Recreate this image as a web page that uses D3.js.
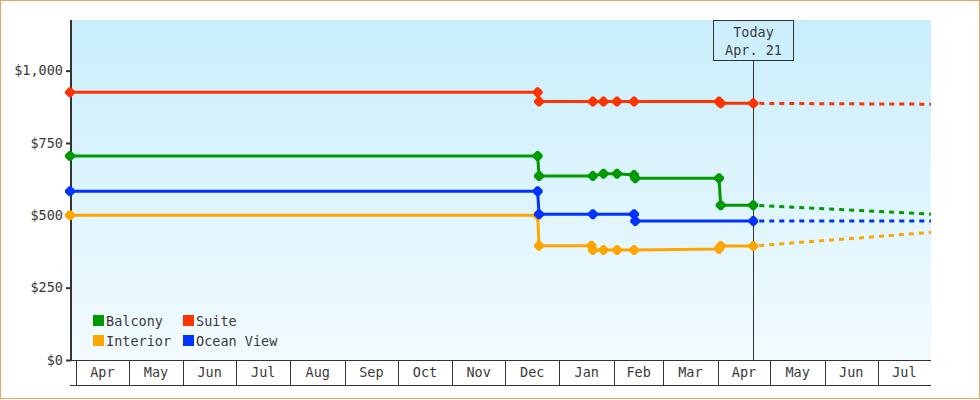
<!DOCTYPE html>
<html>
<head>
<meta charset="utf-8">
<script src="https://cdn.jsdelivr.net/npm/d3@7"></script>
<style>
  html, body { margin: 0; padding: 0; background: #fff; }
  svg { display: block; }
  text { font-family: "DejaVu Sans Mono", "Liberation Mono", monospace; font-size: 13.5px; fill: #3a3a3a; }
</style>
</head>
<body>
<svg id="chart" width="980" height="400"></svg>
<script>
// ---------- data ----------
const xDomain = ["2017-03-28T14:00", "2018-07-31T08:00"];
const yMax = 1175;
const yTicks = [0, 250, 500, 750, 1000];
const seriesNames = ["Balcony", "Suite", "Interior", "Ocean View"];
const seriesColors = ["#009900", "#ff3300", "#ffa500", "#0033ff"];

const balconyDates = ["2017-03-28T14:00", "2017-12-19T14:00", "2017-12-20T09:00", "2018-01-20T00:00", "2018-01-26T01:00", "2018-02-02T17:00", "2018-02-12T10:00", "2018-02-13T02:00", "2018-04-01T18:00", "2018-04-02T17:00", "2018-04-21T06:00"];
const balconyPrices = [705, 705, 636, 636, 644, 644, 639, 628, 628, 535, 535];

const suiteDates = ["2017-03-28T14:00", "2017-12-19T14:00", "2017-12-20T09:00", "2018-01-20T00:00", "2018-01-26T01:00", "2018-02-02T17:00", "2018-02-12T10:00", "2018-04-01T18:00", "2018-04-02T17:00", "2018-04-21T06:00"];
const suitePrices = [925, 925, 893, 893, 893, 893, 893, 893, 887, 887];

const interiorDates = ["2017-03-28T14:00", "2017-12-19T14:00", "2017-12-20T09:00", "2018-01-19T05:00", "2018-01-20T00:00", "2018-01-26T01:00", "2018-02-02T17:00", "2018-02-12T10:00", "2018-04-01T18:00", "2018-04-02T17:00", "2018-04-21T06:00"];
const interiorPrices = [500, 500, 395, 395, 380, 380, 380, 380, 384, 394, 394];

const oceanDates = ["2017-03-28T14:00", "2017-12-19T14:00", "2017-12-20T09:00", "2018-01-20T00:00", "2018-02-12T10:00", "2018-02-13T02:00", "2018-04-21T06:00"];
const oceanPrices = [583, 583, 504, 504, 504, 480, 480];

const forecastDates = ["2018-04-21T06:00", "2018-07-31T08:00"];
const balconyForecast = [535, 504];
const suiteForecast = [887, 884];
const interiorForecast = [394, 441];
const oceanForecast = [480, 480];

const todayDate = "2018-04-21T06:00";
const todayLabel = ["Today", "Apr. 21"];

// ---------- layout ----------
const svg = d3.select("#chart");
const L = 70, R = 931, T = 20, B = 360, bandH = 25;

const x = d3.scaleTime().domain(xDomain.map(d => new Date(d))).range([L, R]);
const y = d3.scaleLinear().domain([0, yMax]).range([B, T]);

// outer border
svg.append("rect").attr("x", 0.5).attr("y", 0.5).attr("width", 979).attr("height", 398)
  .attr("fill", "#fff").attr("stroke", "#e8a55c").attr("stroke-width", 1);

// plot background gradient
const defs = svg.append("defs");
const grad = defs.append("linearGradient").attr("id", "bg").attr("x1", 0).attr("y1", 0).attr("x2", 0).attr("y2", 1);
grad.append("stop").attr("offset", "0%").attr("stop-color", "#c9eefc");
grad.append("stop").attr("offset", "100%").attr("stop-color", "#f2fbff");
svg.append("rect").attr("x", L).attr("y", T).attr("width", R - L).attr("height", B - T).attr("fill", "url(#bg)");

// month band (x axis)
const months = d3.timeMonth.range(d3.timeMonth.ceil(x.domain()[0]), x.domain()[1]);
const band = svg.append("g").attr("shape-rendering", "crispEdges");
band.append("line").attr("x1", L).attr("x2", R).attr("y1", B + 0.5).attr("y2", B + 0.5).attr("stroke", "#333");
band.append("line").attr("x1", L).attr("x2", R).attr("y1", B + bandH + 0.5).attr("y2", B + bandH + 0.5).attr("stroke", "#333").attr("stroke-width", 1.5);
band.selectAll("line.sep").data(months).enter().append("line").attr("class", "sep")
  .attr("x1", d => Math.round(x(d)) + 0.5).attr("x2", d => Math.round(x(d)) + 0.5)
  .attr("y1", B).attr("y2", B + bandH).attr("stroke", "#333");
const fmtMonth = d3.timeFormat("%b");
svg.selectAll("text.month").data(months).enter().append("text").attr("class", "month")
  .attr("x", d => (x(d) + Math.min(R, x(d3.timeMonth.offset(d, 1)))) / 2)
  .attr("y", B + 17).attr("text-anchor", "middle").text(d => fmtMonth(d));

// y axis
const yAxis = d3.axisLeft(y).tickValues(yTicks).tickSize(5).tickPadding(3)
  .tickFormat(d => "$" + d3.format(",")(d));
const gy = svg.append("g").attr("transform", `translate(${L + 1},0)`).call(yAxis);
gy.select(".domain").attr("stroke", "#333").attr("stroke-width", 2).attr("d", `M0,${T}V${B + 1}`);
gy.selectAll(".tick line").attr("stroke", "#333").attr("stroke-width", 2);
gy.selectAll(".tick text").attr("fill", "#3a3a3a")
  .style("font-family", "'DejaVu Sans Mono', monospace").style("font-size", "13.5px");

// today marker
const tx = Math.round(x(new Date(todayDate))) + 0.5;
svg.append("line").attr("x1", tx).attr("x2", tx).attr("y1", 60).attr("y2", B).attr("stroke", "#333").attr("stroke-width", 1);
svg.append("rect").attr("x", tx - 40).attr("y", T + 0.5).attr("width", 80).attr("height", 40)
  .attr("fill", "#cdeffc").attr("stroke", "#333").attr("stroke-width", 1);
svg.selectAll("text.today").data(todayLabel).enter().append("text").attr("class", "today")
  .attr("x", tx).attr("y", (d, i) => 37 + i * 18).attr("text-anchor", "middle").text(d => d);

// series
const allSeries = [
  { name: "Interior", dates: interiorDates, vals: interiorPrices, fc: interiorForecast },
  { name: "Balcony", dates: balconyDates, vals: balconyPrices, fc: balconyForecast },
  { name: "Ocean View", dates: oceanDates, vals: oceanPrices, fc: oceanForecast },
  { name: "Suite", dates: suiteDates, vals: suitePrices, fc: suiteForecast }
];
const colorOf = d3.scaleOrdinal().domain(seriesNames).range(seriesColors);
const line = d3.line().x(d => x(d[0])).y(d => y(d[1]));
const marker = "M-1.2,-5L1.2,-5L5,-1.2L5,1.2L1.2,5L-1.2,5L-5,1.2L-5,-1.2Z";

const gs = svg.append("g");
allSeries.forEach(s => {
  const pts = s.dates.map((d, i) => [new Date(d), s.vals[i]]);
  const fpts = forecastDates.map((d, i) => [new Date(d), s.fc[i]]);
  const c = colorOf(s.name);
  gs.append("path").attr("d", line(fpts)).attr("fill", "none").attr("stroke", c)
    .attr("stroke-width", 3).attr("stroke-dasharray", "5,5").attr("stroke-dashoffset", -6);
  gs.append("path").attr("d", line(pts)).attr("fill", "none").attr("stroke", c)
    .attr("stroke-width", 3).attr("stroke-linejoin", "round");
  gs.selectAll(null).data(pts).enter().append("path")
    .attr("transform", d => `translate(${x(d[0])},${y(d[1])})`)
    .attr("d", marker).attr("fill", c);
});

// legend
const legendPos = [[93, 315], [183, 315], [93, 335], [183, 335]];
const lg = svg.append("g");
seriesNames.forEach((n, i) => {
  const [lx, ly] = legendPos[i];
  lg.append("rect").attr("x", lx).attr("y", ly).attr("width", 11).attr("height", 11).attr("fill", colorOf(n));
  lg.append("text").attr("x", lx + 13).attr("y", ly + 10.5).text(n);
});
</script>
</body>
</html>
